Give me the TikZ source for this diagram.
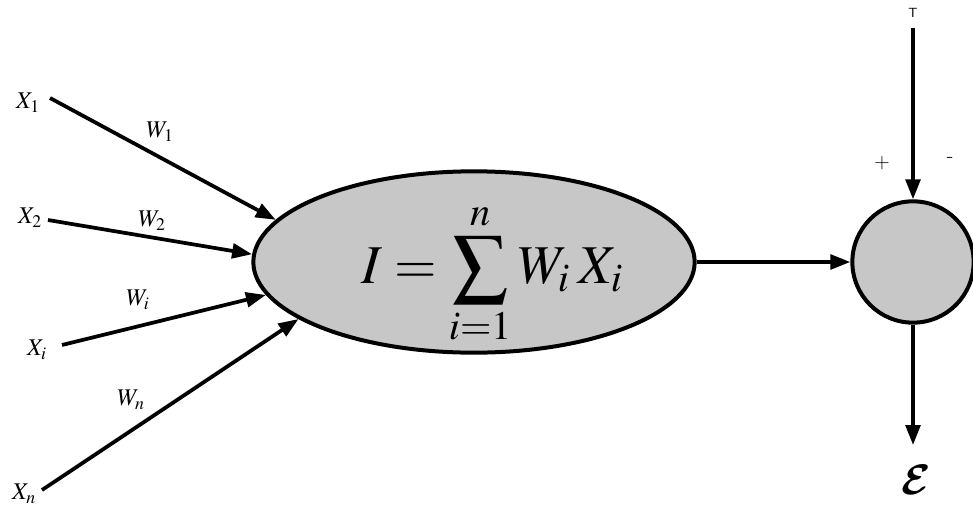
\documentclass[tikz,border=0pt]{standalone}
\usepackage{mathptmx}
\DeclareMathAlphabet{\cmcal}{OMS}{cmsy}{b}{n}
\usetikzlibrary{arrows.meta,shapes.geometric}
\definecolor{shade}{gray}{0.78}
\begin{document}
\begin{tikzpicture}[x=0.75pt,y=-0.75pt,
  conn/.style={line width=2.8pt,-{Triangle[length=15pt,width=11pt]}},
  lbl/.style={inner sep=0pt,font=\fontsize{18}{20}\selectfont},
  sign/.style={inner sep=0pt,font=\bfseries\fontsize{16}{17}\selectfont},
  unit/.style={draw,line width=3pt,fill=shade,inner sep=0pt}]
\useasboundingbox (0,0) rectangle (973,513);
% summing ellipse and threshold circle
\node[unit,ellipse,minimum width=331pt,minimum height=136pt] (sum) at (474,262) {};
\node[inner sep=0pt,font=\fontsize{41}{45}\selectfont] (formula) at (492,274)
  {$\displaystyle I=\sum_{i=1}^{n} W_{i}\mkern3mu X_{i}$};
\node[unit,circle,minimum size=91pt] (th) at (913,262) {};
% inputs
\node[lbl] (x1) at (28,103) {$X_1$};
\node[lbl] (x2) at (30,218) {$X_2$};
\node[lbl] (xi) at (37,350) {$X_i$};
\node[lbl] (xn) at (24,494) {$X_n$};
\coordinate (s1) at (50,98);
\coordinate (s2) at (48,220);
\coordinate (si) at (62,345);
\coordinate (sn) at (42,490);
\draw[conn] (s1) -- (sum.168);
\draw[conn] (s2) -- (sum.178.7);
\draw[conn] (si) -- (sum.189.4);
\draw[conn] (sn) -- (sum.198.3);
% weights
\node[lbl] (w1) at (160,132) {$W_1$};
\node[lbl] (w2) at (152,221) {$W_2$};
\node[lbl] (wi) at (138,300) {$W_i$};
\node[lbl] (wn) at (131,400) {$W_n$};
% output of sum to threshold
\draw[conn] (sum.east) -- (th.west);
% threshold input
\node[inner sep=0pt,font=\sffamily\fontsize{10}{11}\selectfont] (T) at (913,13) {T};
\coordinate (tstart) at (913,28);
\draw[conn] (tstart) -- (th.north);
\node[sign] (plus) at (882,163) {+};
\node[sign] (minus) at (950,160) {-};
% output
\coordinate (oend) at (913,445);
\draw[conn] (th.south) -- (oend);
\node[inner sep=0pt] (eps) at (916,480) {\scalebox{3.2}{$\cmcal{E}$}};
\end{tikzpicture}
\end{document}
